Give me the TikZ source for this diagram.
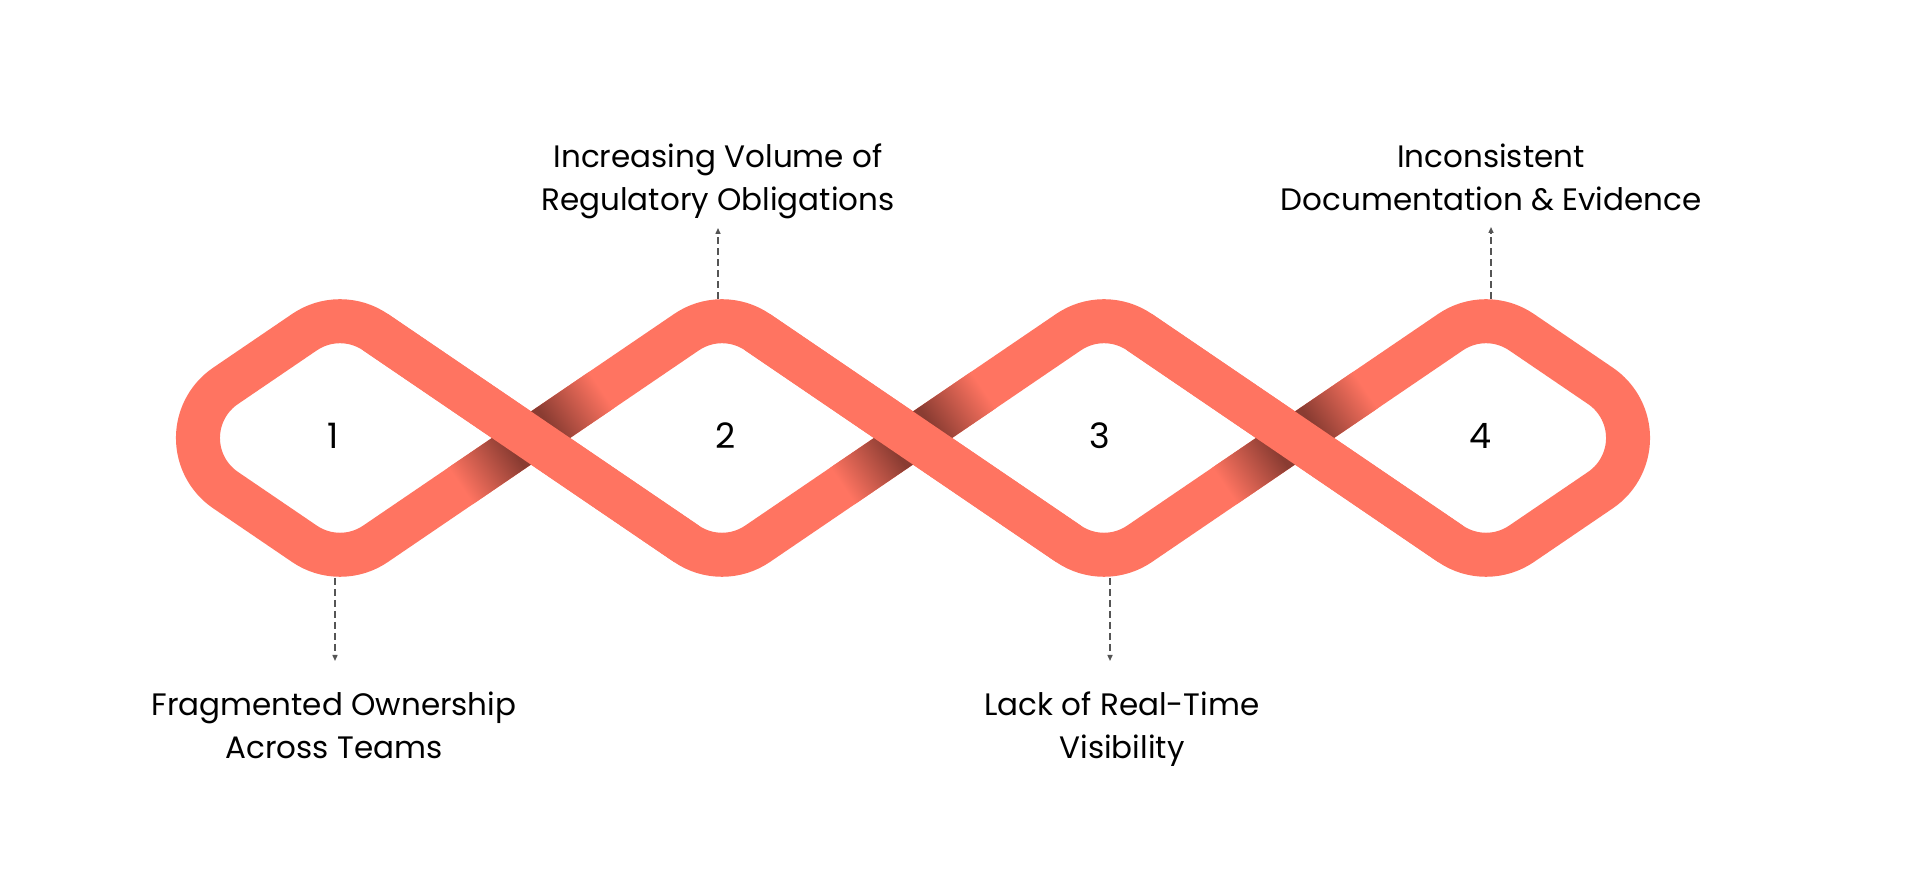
\documentclass[tikz,border=0pt]{standalone}
\usepackage{fontspec}
\setmainfont{Poppins}
\usetikzlibrary{arrows.meta}
\definecolor{coral}{RGB}{255,116,97}
\definecolor{shadowc}{RGB}{138,60,50}
\definecolor{dashgray}{RGB}{85,85,85}
\begin{document}
\begin{tikzpicture}[x=1pt,y=1pt,
  band/.style={draw=coral, line width=44pt, line cap=butt, line join=round},
  lbl/.style={font=\fontsize{31}{43}\selectfont, align=center, inner sep=0pt, text=black, anchor=base},
  num/.style={font=\fontsize{35}{40}\selectfont, inner sep=0pt, text=black},
  lead/.style={draw=dashgray, line width=1.4pt, dash pattern=on 7pt off 4pt, -{Triangle[length=6pt,width=5pt]}}]
\useasboundingbox[fill=white] (0,0) rectangle (1920,883);
% woven band
\draw[band] (225.51,497.08) -- (304.55,550.87)
  arc[start angle=124.24, end angle=55.76, radius=63]
  -- (686.55,339.13) arc[start angle=235.76, end angle=304.24, radius=63]
  -- (1068.55,550.87) arc[start angle=124.24, end angle=55.76, radius=63]
  -- (1450.55,339.13) arc[start angle=235.76, end angle=304.24, radius=63]
  -- (1600.49,392.92) arc[start angle=-55.76, end angle=55.76, radius=63]
  -- (1521.45,550.87) arc[start angle=55.76, end angle=124.24, radius=63]
  -- (1139.45,339.13) arc[start angle=304.24, end angle=235.76, radius=63]
  -- (757.45,550.87) arc[start angle=55.76, end angle=124.24, radius=63]
  -- (375.45,339.13) arc[start angle=304.24, end angle=235.76, radius=63]
  -- (225.51,392.92) arc[start angle=235.76, end angle=124.24, radius=63]
  -- cycle;
% shadows on the under strands
\foreach \cx in {531,913,1295}{
  \begin{scope}[transform canvas={shift={(\cx pt,445pt)}, rotate=34.24}]
    \shade[left color=coral, right color=shadowc] (-85,-22) rectangle (-22,22);
    \fill[shadowc] (-22.5,-22) rectangle (22.5,22);
    \shade[left color=shadowc, right color=coral] (22,-22) rectangle (85,22);
  \end{scope}
}
% over strands
\draw[band] (375.45,550.87) -- (686.55,339.13);
\draw[band] (757.45,550.87) -- (1068.55,339.13);
\draw[band] (1139.45,550.87) -- (1450.55,339.13);
% numbers
\node[num] (n1) at (333,447) {1};
\node[num] (n2) at (726,447) {2};
\node[num] (n3) at (1100,447) {3};
\node[num] (n4) at (1480,447) {4};
% labels (base = baseline of last line)
\node[lbl] (l1) at (334,124) {Fragmented Ownership\\Across Teams};
\node[lbl] (l2) at (718,672) {Increasing Volume of\\Regulatory Obligations};
\node[lbl] (l3) at (1122,124) {Lack of Real-Time\\Visibility};
\node[lbl] (l4) at (1491,672) {Inconsistent\\Documentation \& Evidence};
% leader lines
\coordinate (s1) at (335,305); \coordinate (e1) at (335,222);
\coordinate (s2) at (718,584); \coordinate (e2) at (718,655);
\coordinate (s3) at (1110,305); \coordinate (e3) at (1110,222);
\coordinate (s4) at (1491,584); \coordinate (e4) at (1491,656);
\draw[lead] (s1) -- (e1);
\draw[lead] (s2) -- (e2);
\draw[lead] (s3) -- (e3);
\draw[lead] (s4) -- (e4);
\end{tikzpicture}
\end{document}
